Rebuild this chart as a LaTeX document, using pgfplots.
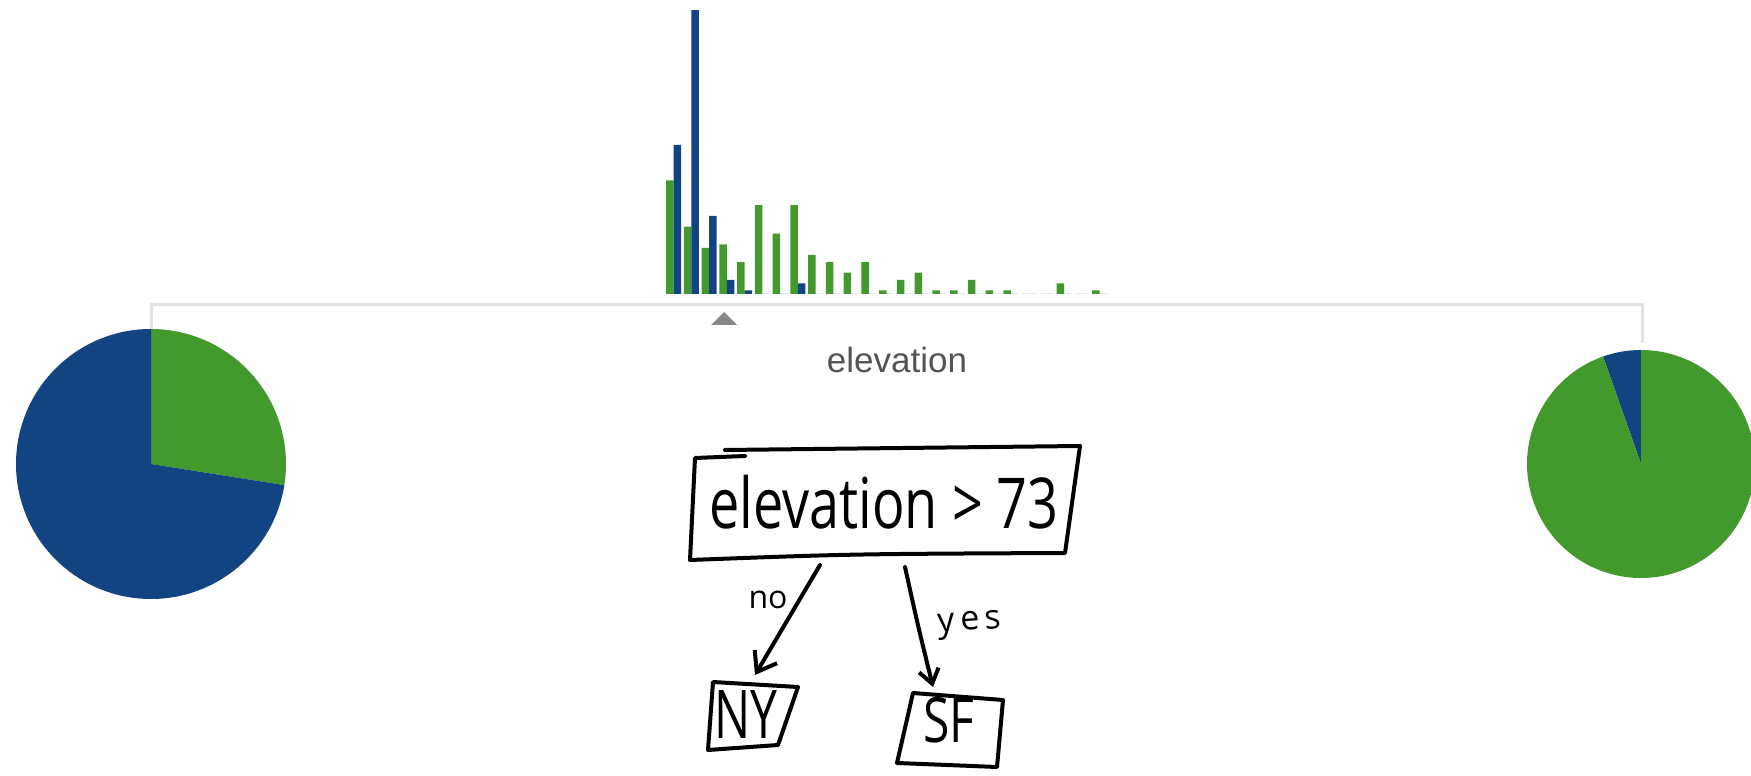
\documentclass[border=0pt]{standalone}
\usepackage{pgfplots}
\pgfplotsset{compat=1.18}
\usepackage{pgfplotstable}
\usepackage{fontspec}
\setmainfont{Liberation Sans}
\newfontfamily\hand{Open Sans}
\usetikzlibrary{arrows.meta}

\definecolor{nyblue}{HTML}{134482}
\definecolor{sfgreen}{HTML}{439A2C}
\definecolor{rule}{HTML}{E2E2E2}

% counts per elevation bin: sf (green), ny (blue)
\pgfplotstableread{
bin sf ny
0  32 42
1  19 80
2  13 22
3  14 4
4  9  1
5  25 0
6  17 0
7  25 3
8  11 0
9  9  0
10 6  0
11 9  0
12 1  0
13 4  0
14 6  0
15 1  0
16 1  0
17 4  0
18 1  0
19 1  0
20 0  0
21 0  0
22 3  0
23 0  0
24 1  0
}\hist

% pie shares in percent
\def\leftsf{27.5}  % elevation <= 73
\def\rightny{5.4}  % elevation > 73

\begin{document}
\begin{tikzpicture}
\useasboundingbox (0,0) rectangle (875.5pt,388pt);
\pgfmathsetmacro\la{90-3.6*\leftsf}
\pgfmathsetmacro\lb{\la+360}
\pgfmathsetmacro\ra{90+3.6*\rightny}
\tikzset{hw/.style={line width=2pt, line cap=round, line join=round}}

\begin{axis}[name=main, at={(0,0)}, anchor=south west,
    width=875.5pt, height=388pt, scale only axis,
    xmin=0, xmax=1751, ymin=0, ymax=776,
    hide axis, clip=false]

% bracket and split marker
\draw[rule, line width=1.5pt] (axis cs:151,447) -- (axis cs:151,471)
    -- (axis cs:1642,471) -- (axis cs:1642,433);
\fill[black!47] (axis cs:724,464) -- (axis cs:737,451) -- (axis cs:711,451) -- cycle;
\node[text=black!67] at (axis cs:897,416) {\fontsize{17.5}{20}\selectfont elevation};

% left pie (elevation <= 73)
\fill[sfgreen] (axis cs:151,312) -- ++(\la:67.5pt) arc[start angle=\la, end angle=90, radius=67.5pt] -- cycle;
\fill[nyblue] (axis cs:151,312) -- ++(90:67.5pt) arc[start angle=90, end angle=\lb, radius=67.5pt] -- cycle;

% right pie (elevation > 73)
\fill[nyblue] (axis cs:1641,312) -- ++(90:57pt) arc[start angle=90, end angle=\ra, radius=57pt] -- cycle;
\fill[sfgreen] (axis cs:1641,312) -- ++(\ra:57pt) arc[start angle=\ra, end angle=450, radius=57pt] -- cycle;

% hand drawn tree
\draw[hw] (axis cs:745,320) -- (axis cs:695,318) -- (axis cs:690,216)
    .. controls (axis cs:850,222) .. (axis cs:1065,223) -- (axis cs:1080,330);
\draw[hw] (axis cs:725,326) -- (axis cs:1080,330);
\node[yscale=1.3] at (axis cs:884,274) {\hand\fontsize{27}{30}\selectfont elevation > 73};

\draw[hw, -{Straight Barb[length=9pt,width=13pt,line width=2pt]}] (axis cs:820,211) -- (axis cs:755,101);
\node at (axis cs:768,176) {\hand\fontsize{16}{18}\selectfont no};
\draw[hw, -{Straight Barb[length=7pt,width=10pt,line width=2pt]}] (axis cs:905,209)
    .. controls (axis cs:918,150) .. (axis cs:933,89);
\node[rotate=4] at (axis cs:970,151) {\hand\fontsize{17}{18}\selectfont y\,e\,s};

\draw[hw] (axis cs:713,94) -- (axis cs:798,89) -- (axis cs:778,31) -- (axis cs:708,26) -- cycle;
\node[yscale=1.4] at (axis cs:746,61) {\hand\fontsize{24}{26}\selectfont NY};
\draw[hw] (axis cs:913,83) -- (axis cs:1003,76) -- (axis cs:997,9) -- (axis cs:897,13) -- cycle;
\node[yscale=1.3] at (axis cs:949,56) {\hand\fontsize{24}{26}\selectfont SF};
\end{axis}

% histogram
\begin{axis}[at={(332.31pt,241pt)}, anchor=south west,
    width=221.875pt, height=142pt, scale only axis,
    xmin=-0.5, xmax=24.5, ymin=0, ymax=80,
    hide axis, clip=false,
    ybar=0pt, bar width=3.75pt]
\addplot[fill=sfgreen, draw=none] table[x=bin, y=sf] {\hist};
\addplot[fill=nyblue, draw=none] table[x=bin, y=ny] {\hist};
\end{axis}
\end{tikzpicture}
\end{document}
